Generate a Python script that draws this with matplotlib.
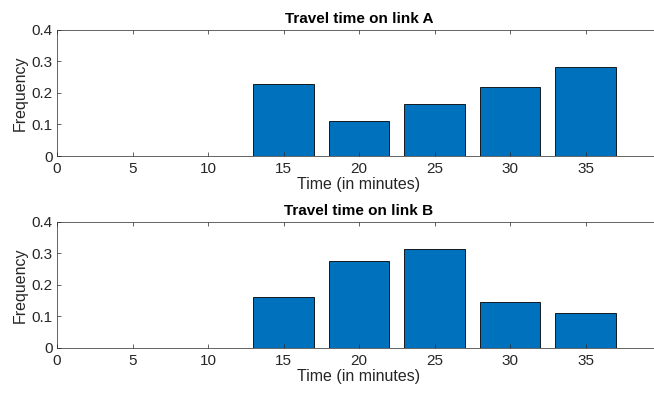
import matplotlib
matplotlib.use('Agg')
import matplotlib.pyplot as plt

times = [15, 20, 25, 30, 35]
freq_a = [0.228, 0.111, 0.164, 0.218, 0.283]
freq_b = [0.160, 0.276, 0.314, 0.145, 0.110]
xticks = [0, 5, 10, 15, 20, 25, 30, 35]
yticks = [0, 0.1, 0.2, 0.3, 0.4]

plt.rcParams['font.family'] = ['Liberation Sans', 'DejaVu Sans']
plt.rcParams['font.size'] = 10

fig = plt.figure(figsize=(6.54, 3.95), dpi=100)
ax_color = '#262626'

def draw(ax, values, title):
    ax.bar(times, values, width=4, color='#0072BD', edgecolor='black', linewidth=0.6)
    ax.set_xlim(0, 40)
    ax.set_ylim(0, 0.4)
    ax.set_xticks(xticks)
    ax.set_yticks(yticks)
    ax.set_yticklabels(['0', '0.1', '0.2', '0.3', '0.4'])
    ax.tick_params(direction='in', top=True, right=True, length=3, width=0.5,
                   colors=ax_color, labelsize=11)
    ax.tick_params(axis='x', pad=4)
    ax.tick_params(axis='y', pad=3)
    for s in ax.spines.values():
        s.set_linewidth(0.5)
        s.set_color(ax_color)
    ax.set_title(title, fontweight='bold', fontsize=11, pad=4.5)
    ax.set_xlabel('Time (in minutes)', fontsize=11.5, labelpad=1, color=ax_color)
    ax.set_ylabel('Frequency', fontsize=11.5, labelpad=3, color=ax_color)

ax1 = fig.add_axes([0.0872, 0.605, 0.9235, 0.32])
draw(ax1, freq_a, 'Travel time on link A')
ax2 = fig.add_axes([0.0872, 0.119, 0.9235, 0.32])
draw(ax2, freq_b, 'Travel time on link B')

fig.savefig('out.png', dpi=100)
